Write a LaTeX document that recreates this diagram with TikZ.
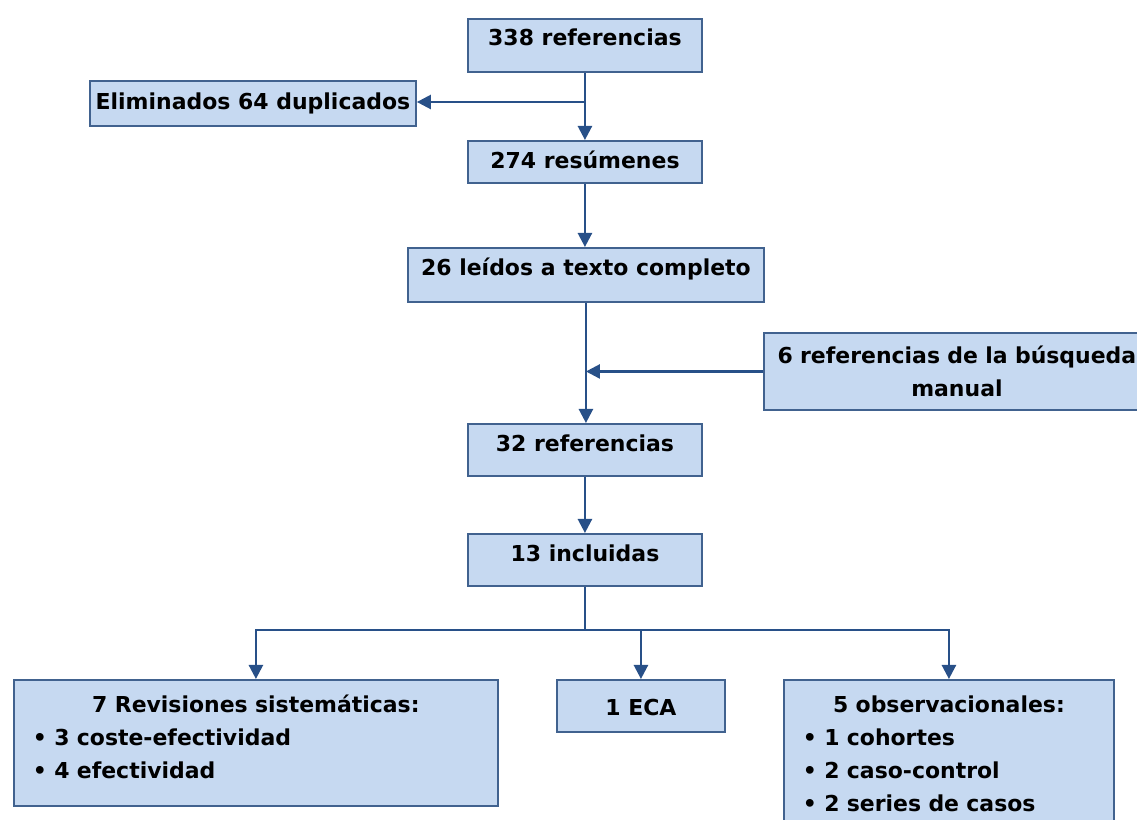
\documentclass[tikz,border=0pt]{standalone}
\usepackage{fontspec}
\setmainfont{DejaVu Sans}
\usetikzlibrary{arrows.meta}
\definecolor{boxfill}{RGB}{198,217,241}
\definecolor{boxline}{RGB}{65,98,143}
\definecolor{flowcol}{RGB}{40,80,136}
\tikzset{
    stage/.style n args={3}{draw=boxline, fill=boxfill, line width=1.1pt, anchor=north west,
        inner sep=0pt, minimum width=#1, text height=#2, text depth=#3, align=center,
        font=\bfseries\fontsize{12.5}{18.7}\selectfont},
    link/.style={draw=flowcol, line width=1.4pt},
    flow/.style={link, -{Triangle[length=8pt, width=8pt]}}
}

\begin{document}
\begin{tikzpicture}[x=0.02cm, y=-0.02cm]
            \useasboundingbox (0, 0) rectangle (1137, 819);
            \clip (0, 0) rectangle (1137, 819);
            \node[stage={4.68cm}{0.54cm}{0.53cm}] (refs) at (467, 18) {338 referencias};
            \node[stage={6.52cm}{0.58cm}{0.33cm}] (elim) at (89, 80) {Eliminados 64 duplicados};
            \node[stage={4.68cm}{0.56cm}{0.28cm}] (resum) at (467, 140) {274 resúmenes};
            \node[stage={7.12cm}{0.56cm}{0.53cm}] (leidos) at (407, 247) {26 leídos a texto completo};
            \node[stage={7.72cm}{0.62cm}{0.92cm}, text width=7.72cm] (manual) at (763, 332)
                {6 referencias de la búsqueda\\manual};
            \node[stage={4.68cm}{0.56cm}{0.48cm}] (refsb) at (467, 423) {32 referencias};
            \node[stage={4.68cm}{0.56cm}{0.48cm}] (incl) at (467, 533) {13 incluidas};
            \node[stage={9.68cm}{0.66cm}{1.86cm}, text width=8.92cm, align=left] (revis) at (13, 679)
                {\makebox[\linewidth]{7 Revisiones sistemáticas:}\\• 3 coste-efectividad\\• 4 efectividad};
            \node[stage={3.36cm}{0.72cm}{0.32cm}] (eca) at (556, 679) {1 ECA};
            \node[stage={6.6cm}{0.66cm}{2.46cm}, text width=5.84cm, align=left] (obs) at (783, 679)
                {\makebox[\linewidth]{5 observacionales:}\\• 1 cohortes\\• 2 caso-control\\• 2 series de casos};
            % main line
            \coordinate (dup) at (refs.south |- 0, 102);
            \coordinate (split) at (incl.south |- 0, 630);
            \draw[flow] (refs.south) -- (refs.south |- resum.north);
            \draw[flow] (dup) -- (dup -| elim.east);
            \draw[flow] (resum.south) -- (resum.south |- leidos.north);
            \draw[flow] (leidos.south) -- (leidos.south |- refsb.north);
            \draw[flow] (manual.west) -- (manual.west -| leidos.south);
            \draw[flow] (refsb.south) -- (refsb.south |- incl.north);
            % branches
            \draw[link] (incl.south) -- (split);
            \draw[flow] (split) -| (revis.north);
            \draw[flow] (split) -| (obs.north);
            \draw[flow] (split -| eca.north) -- (eca.north);
        \end{tikzpicture}
\end{document}
